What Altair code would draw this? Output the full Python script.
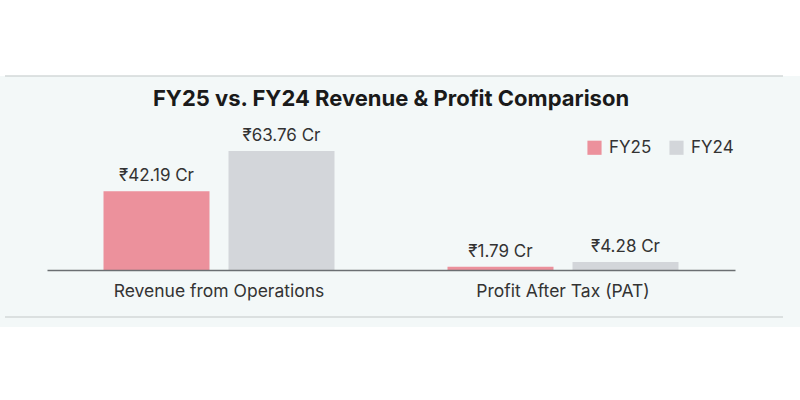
import altair as alt
import pandas as pd

categories = ["Revenue from Operations", "Profit After Tax (PAT)"]
years = ["FY25", "FY24"]
fy25_values = [42.19, 1.79]
fy24_values = [63.76, 4.28]
colors = ["#ec919c", "#d3d6da"]

rows = []
for i, c in enumerate(categories):
    rows.append({"category": c, "year": "FY25", "value": fy25_values[i]})
    rows.append({"category": c, "year": "FY24", "value": fy24_values[i]})
df = pd.DataFrame(rows)
df["label"] = df["value"].map(lambda v: f"₹{v:.2f} Cr")

FONT = "Inter"
W, H = 688, 160
LEFT, TOP = 47, 110

x_enc = alt.X("category:N", sort=categories,
              scale=alt.Scale(paddingInner=0, paddingOuter=0),
              axis=alt.Axis(title=None, ticks=False, labelAngle=0, labelFontSize=17.5,
                            labelColor="#333333", labelFont=FONT, labelPadding=12,
                            labelLimit=500,
                            domainColor="#6b6f72", domainWidth=1.5, zindex=1))
xo_enc = alt.XOffset("year:N", sort=years,
                     scale=alt.Scale(paddingInner=0.152, paddingOuter=0.452))
y_enc = alt.Y("value:Q", scale=alt.Scale(domain=[0, 85.7], nice=False), axis=None)

deco = pd.DataFrame({"k": [0]})
panel = alt.Chart(deco).mark_rect(color="#f3f8f8").encode(
    x=alt.value(-LEFT), x2=alt.value(800 - LEFT),
    y=alt.value(76 - TOP), y2=alt.value(327 - TOP))
top_line = alt.Chart(deco).mark_rule(color="#d3d8d8", strokeWidth=1.5).encode(
    x=alt.value(5 - LEFT), x2=alt.value(783 - LEFT), y=alt.value(76 - TOP))
bot_line = alt.Chart(deco).mark_rule(color="#d3d8d8", strokeWidth=1.5).encode(
    x=alt.value(5 - LEFT), x2=alt.value(783 - LEFT), y=alt.value(317 - TOP))

bars = alt.Chart(df).mark_bar().encode(
    x=x_enc, xOffset=xo_enc, y=y_enc,
    color=alt.Color("year:N", sort=years,
                    scale=alt.Scale(domain=years, range=colors),
                    legend=alt.Legend(title=None, orient="none", direction="horizontal",
                                      legendX=539, legendY=29, symbolType="square",
                                      symbolSize=200, symbolStrokeWidth=0,
                                      labelFontSize=17, labelFont=FONT,
                                      labelColor="#333333", labelOffset=6,
                                      columnPadding=16, zindex=1)))

labels = alt.Chart(df).mark_text(baseline="alphabetic", dy=-10, fontSize=17,
                                 font=FONT, color="#333333").encode(
    x=x_enc, xOffset=xo_enc, y=y_enc, text="label:N")

chart = alt.layer(panel, top_line, bot_line, bars, labels).properties(
    width=W, height=H,
    title=alt.Title("FY25 vs. FY24 Revenue & Profit Comparison", fontSize=22,
                    font=FONT, fontWeight="bold", color="#1a1a1a",
                    anchor="middle", offset=-36, zindex=1),
    autosize=alt.AutoSizeParams(type="none"),
    padding={"left": LEFT, "top": TOP, "right": 800 - LEFT - W, "bottom": 400 - TOP - H},
    background="white",
).configure_view(stroke=None)

chart.save("out.html", embed_options={"renderer": "svg", "actions": False})
